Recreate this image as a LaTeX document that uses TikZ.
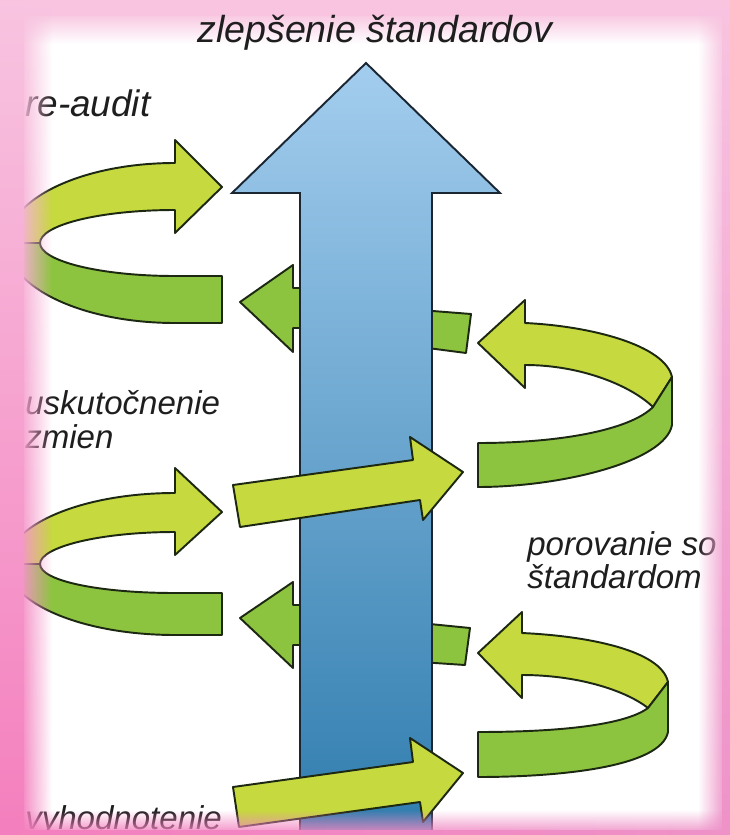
\documentclass[tikz,border=0pt]{standalone}
\usepackage{fontspec}
\setmainfont{Liberation Sans}
\usetikzlibrary{fadings}

\definecolor{pinkTop}{HTML}{F8C4E0}
\definecolor{pinkLow}{HTML}{F47FBE}
\definecolor{pinkRight}{HTML}{EE92C8}
\definecolor{blueTop}{HTML}{A3CDEE}
\definecolor{blueBot}{HTML}{2D7BAD}
\definecolor{blueEdge}{HTML}{1B2633}
\definecolor{greenLight}{HTML}{C6D93E}
\definecolor{greenDark}{HTML}{8DC43F}
\definecolor{greenEdge}{HTML}{1C2812}
\definecolor{textGray}{HTML}{1E1E1E}

\tikzfading[name=fadeRight, left color=transparent!0, right color=transparent!100]
\tikzfading[name=fadeLeft, left color=transparent!100, right color=transparent!0]
\tikzfading[name=fadeDown, top color=transparent!0, bottom color=transparent!100]
\tikzfading[name=fadeUp, top color=transparent!100, bottom color=transparent!0]

\tikzset{
  lightband/.style={fill=greenLight, draw=greenEdge, line width=1.1pt, line join=round},
  darkband/.style={fill=greenDark, draw=greenEdge, line width=1.1pt, line join=round},
  lbl/.style={inner sep=0pt, text=textGray, font=\fontsize{18.8}{22}\selectfont\itshape},
  ttl/.style={inner sep=0pt, text=textGray, font=\fontsize{21.4}{25}\selectfont\itshape}
}

\begin{document}
\begin{tikzpicture}[x=0.02cm, y=-0.02cm]
\useasboundingbox (0,0) rectangle (730,835);
\fill [white](0,0) rectangle (730,835);
%\draw [lightgray, step=50](0,0) grid (730,835);

% parts behind the big arrow
\draw [darkband](310,288) -- (293,288) -- (293,265) -- (240,302) -- (293,352) -- (293,328) -- (310,328) -- cycle;
\draw [darkband](310,605) -- (293,605) -- (293,582) -- (240,618) -- (293,668) -- (293,645) -- (310,645) -- cycle;
\draw [darkband](420,310) -- (471,314) -- (466,353) -- (420,347) -- cycle;
\draw [darkband](420,623) -- (470,628) -- (465,665) -- (420,662) -- cycle;

% big arrow
\draw [blueEdge, line width=1.1pt, line join=miter, top color=blueTop, bottom color=blueBot]
  (300,850) -- (300,193) -- (232,193) -- (366,63) -- (500,193) -- (432,193) -- (432,850) -- cycle;

% arrows in front of it
\draw [lightband](233,485) -- (413,460) -- (410,437) -- (463,472) -- (423,520) -- (420,500) -- (240,527) -- cycle;
\draw [lightband](233,787) -- (413,762) -- (410,738) -- (463,773) -- (423,822) -- (420,802) -- (239,827) -- cycle;

% left loops
\draw [lightband](175,163) .. controls (82,163) and (7,199) .. (7,243) -- (40,243)
  .. controls (40,225) and (100,210) .. (175,210) -- (175,233) -- (222,187) -- (175,140) -- cycle;
\draw [darkband](7,243) .. controls (7,287) and (82,323) .. (175,323) -- (222,323) -- (222,276)
  -- (175,276) .. controls (100,276) and (40,261) .. (40,243) -- cycle;

\draw [lightband](175,493) .. controls (82,493) and (7,525) .. (7,564) -- (40,564)
  .. controls (40,547) and (100,532) .. (175,532) -- (175,555) -- (222,512) -- (175,468) -- cycle;
\draw [darkband](7,564) .. controls (7,603) and (82,635) .. (175,635) -- (222,635) -- (222,593)
  -- (175,593) .. controls (100,593) and (40,581) .. (40,564) -- cycle;

% right loops
\draw [lightband](525,323) .. controls (590,326) and (665,345) .. (672,377) -- (653,407)
  .. controls (630,385) and (580,365) .. (525,365) -- (525,388) -- (478,343) -- (525,300) -- cycle;
\draw [darkband](653,407) -- (672,377) -- (672,425) .. controls (665,462) and (560,487) .. (478,487)
  -- (478,443) .. controls (560,443) and (630,430) .. (653,407) -- cycle;

\draw [lightband](522,633) .. controls (587,636) and (661,650) .. (668,682) -- (648,708)
  .. controls (625,690) and (577,675) .. (522,675) -- (522,698) -- (478,653) -- (522,612) -- cycle;
\draw [darkband](648,708) -- (668,682) -- (668,732) .. controls (661,767) and (560,777) .. (478,777)
  -- (478,732) .. controls (560,732) and (625,725) .. (648,708) -- cycle;

\node [lbl, anchor=base west, font=\fontsize{21}{25}\selectfont\itshape] (reaudit) at (25,116) {re-audit};
\node [lbl, anchor=base west] (uskutocnenie) at (25,414) {uskutočnenie};
\node [lbl, anchor=base west] (zmien) at (25,448) {zmien};
\node [lbl, anchor=base west] (porovanie) at (527,555) {porovanie so};
\node [lbl, anchor=base west] (standardom) at (527,588) {štandardom};
\node [lbl, anchor=base west] (vyhodnotenie) at (25,829) {vyhodnotenie};

% pink frame
\fill [pinkTop](0,0) rectangle (730,16);
\fill [pinkTop, path fading=fadeDown](0,12) rectangle (730,44);
\shade [top color=pinkTop, bottom color=pinkLow](0,0) rectangle (24,835);
\shade [top color=pinkTop, bottom color=pinkLow, path fading=fadeRight](20,0) rectangle (52,835);
\shade [top color=pinkTop, bottom color=pinkRight](722,0) rectangle (730,835);
\shade [top color=pinkTop, bottom color=pinkRight, path fading=fadeLeft](698,0) rectangle (726,835);
\shade [left color=pinkLow, right color=pinkRight](0,830) rectangle (730,835);
\shade [left color=pinkLow, right color=pinkRight, path fading=fadeUp](0,810) rectangle (730,835);

\node [ttl, anchor=base] (zlepsenie) at (375,42) {zlepšenie štandardov};
\end{tikzpicture}
\end{document}
